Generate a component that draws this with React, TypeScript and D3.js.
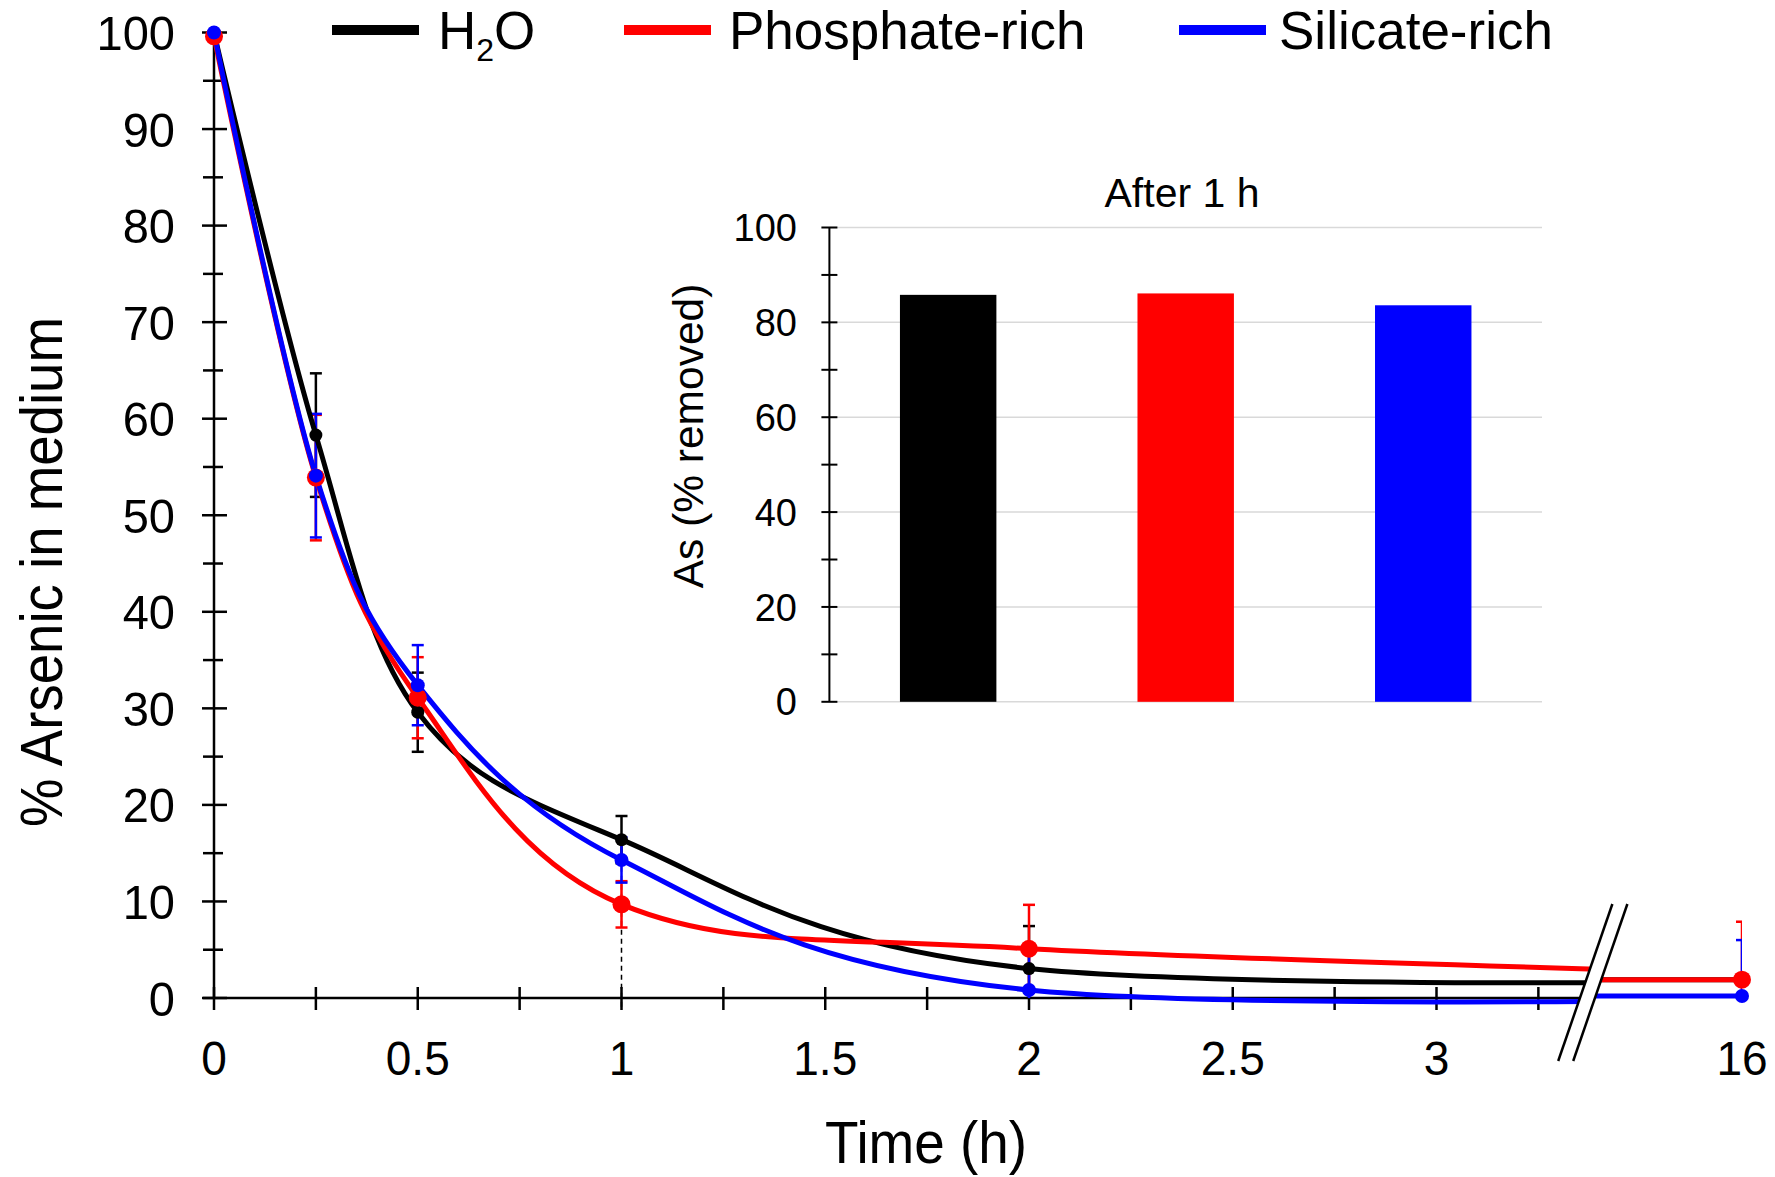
import React from "react";
import * as d3 from "d3";

// ---------- data ----------
const times = [0, 0.25, 0.5, 1, 2, 16];
const h2oValues = [100, 58.3, 29.6, 16.4, 3.05, 1.9];
const h2oErrors = [0, 6.4, 4.1, 2.45, 4.4, 0.3];
const phosphateValues = [99.6, 53.9, 31.1, 9.7, 5.1, 1.9];
const phosphateErrors = [0, 6.5, 4.2, 2.4, 4.55, 6.0];
const silicateValues = [100, 54.1, 32.4, 14.3, 0.83, 0.2];
const silicateErrors = [0, 6.4, 4.15, 2.35, 4.3, 5.8];
const seriesNames = ["H2O", "Phosphate-rich", "Silicate-rich"];
const seriesColors = ["#000000", "#ff0000", "#0000ff"];

const xMajorTicks = [0, 0.5, 1, 1.5, 2, 2.5, 3, 16];
const xMajorLabels = ["0", "0.5", "1", "1.5", "2", "2.5", "3", "16"];
const xMinorTicks = [0, 0.25, 0.5, 0.75, 1, 1.25, 1.5, 1.75, 2, 2.25, 2.5, 2.75, 3, 3.25];
const yMajorTicks = [0, 10, 20, 30, 40, 50, 60, 70, 80, 90, 100];
const yMinorTicks = [5, 15, 25, 35, 45, 55, 65, 75, 85, 95];

const insetCategories = ["H2O", "Phosphate-rich", "Silicate-rich"];
const insetValues = [85.8, 86.1, 83.6];
const insetLabelTicks = [0, 20, 40, 60, 80, 100];
const insetTicks = [0, 10, 20, 30, 40, 50, 60, 70, 80, 90, 100];

// ---------- layout ----------
const W = 1775;
const H = 1177;
const FONT = "'Liberation Sans', Arial, Helvetica, sans-serif";
const plotLeft = 214;
const axisY = 998;
const plotTop = 32.5;
const unitPx = 407.5;
const breakT = 3.352;
const x16Px = 1742;
const virtualT16 = 4.33;
const breakGap = 15;
const breakSlope = 0.345;
const breakUp = 94;
const breakDown = 63;

const xLin = d3.scaleLinear().domain([0, 1]).range([plotLeft, plotLeft + unitPx]);
const xAxisScale = d3
  .scaleLinear()
  .domain([0, breakT, 16])
  .range([xLin(0), xLin(breakT), x16Px]);
const y = d3.scaleLinear().domain([0, 100]).range([axisY, plotTop]);

const series = seriesNames.map((name, i) => ({
  name,
  color: seriesColors[i],
  values: [h2oValues, phosphateValues, silicateValues][i],
  errors: [h2oErrors, phosphateErrors, silicateErrors][i],
  r: [6.5, 9, 7][i],
}));

const curveX = (t: number) => (t > breakT ? xLin(virtualT16) : xLin(t));
const lineGen = d3
  .line<[number, number]>()
  .x((d) => curveX(d[0]))
  .y((d) => y(d[1]))
  .curve(d3.curveCatmullRom.alpha(0));

const xb = xLin(breakT);
const x1At = (yy: number) => xb - breakSlope * (yy - axisY);

// inset
const insetLeft = 829.4;
const insetRight = 1542;
const yIn = d3.scaleLinear().domain([0, 100]).range([701.8, 227.5]);
const xIn = d3
  .scaleBand<string>()
  .domain(insetCategories)
  .range([insetLeft, insetRight])
  .paddingInner(0.594)
  .paddingOuter(0.297);

const legendLineX = [332, 624, 1179];
const legendTextX = [438, 729, 1279];

export default function App() {
  const tickFont = 49;
  const breakTop = axisY - breakUp;
  const breakBot = axisY + breakDown;
  return (
    <svg
      width={W}
      height={H}
      viewBox={`0 0 ${W} ${H}`}
      style={{ position: "absolute", left: 0, top: 0, background: "#fff" }}
      fontFamily={FONT}
    >
      <defs>
        <clipPath id="leftOfBreak">
          <polygon points={`0,0 ${x1At(0)},0 ${x1At(H)},${H} 0,${H}`} />
        </clipPath>
        <clipPath id="rightOfBreak">
          <polygon
            points={`${x1At(0) + breakGap},0 ${W},0 ${W},${H} ${x1At(H) + breakGap},${H}`}
          />
        </clipPath>
        <clipPath id="errClip">
          <rect x={0} y={0} width={x16Px} height={axisY} />
        </clipPath>
      </defs>
      <rect width={W} height={H} fill="#fff" />

      {/* dashed line at 1 h */}
      <line
        x1={xLin(1)}
        x2={xLin(1)}
        y1={y(h2oValues[3])}
        y2={axisY + 12}
        stroke="#000"
        strokeWidth={1.5}
        strokeDasharray="5,4"
      />

      {/* y axis */}
      <line x1={plotLeft} x2={plotLeft} y1={y(100)} y2={axisY} stroke="#000" strokeWidth={2.5} />
      {yMajorTicks.map((v) => (
        <g key={"ym" + v}>
          <line x1={plotLeft - 12} x2={plotLeft + 13} y1={y(v)} y2={y(v)} stroke="#000" strokeWidth={2.5} />
          <text
            transform={`translate(175, ${y(v) + 0.358 * tickFont}) scale(0.96,1)`}
            textAnchor="end"
            fontSize={tickFont}
            fill="#000"
          >
            {v}
          </text>
        </g>
      ))}
      {yMinorTicks.map((v) => (
        <line key={"yn" + v} x1={plotLeft - 11} x2={plotLeft + 9} y1={y(v)} y2={y(v)} stroke="#000" strokeWidth={2.5} />
      ))}

      {/* x axis */}
      <line x1={plotLeft - 11} x2={xb} y1={axisY} y2={axisY} stroke="#000" strokeWidth={2.5} />
      {xMinorTicks.map((t) => (
        <line key={"xt" + t} x1={xLin(t)} x2={xLin(t)} y1={axisY - 11} y2={axisY + 12} stroke="#000" strokeWidth={2.5} />
      ))}
      {xMajorTicks.map((t, i) => (
        <text
          key={"xl" + t}
          transform={`translate(${xAxisScale(t)}, 1075) scale(0.94,1)`}
          textAnchor="middle"
          fontSize={tickFont}
          fill="#000"
        >
          {xMajorLabels[i]}
        </text>
      ))}

      {/* error bars */}
      <g clipPath="url(#errClip)">
        {series.map((s) =>
          times.map((t, j) => {
            const e = s.errors[j];
            if (!e) return null;
            const cx = xAxisScale(t);
            const yt = y(s.values[j] + e);
            const yb = y(s.values[j] - e);
            return (
              <g key={s.name + "e" + j} stroke={s.color} strokeWidth={2.5}>
                <line x1={cx} x2={cx} y1={yt} y2={yb} />
                <line x1={cx - 6} x2={cx + 6} y1={yt} y2={yt} />
                <line x1={cx - 6} x2={cx + 6} y1={yb} y2={yb} />
              </g>
            );
          })
        )}
      </g>

      {/* curves before break */}
      <g clipPath="url(#leftOfBreak)">
        {series.map((s) => (
          <path
            key={s.name + "line"}
            d={lineGen(times.map((t, j) => [t, s.values[j]] as [number, number])) || ""}
            fill="none"
            stroke={s.color}
            strokeWidth={5}
          />
        ))}
      </g>
      {/* segments after break */}
      <g clipPath="url(#rightOfBreak)">
        {series.map((s) => (
          <line
            key={s.name + "post"}
            x1={xb - 40}
            x2={xAxisScale(16)}
            y1={y(s.values[s.values.length - 1])}
            y2={y(s.values[s.values.length - 1])}
            stroke={s.color}
            strokeWidth={5}
          />
        ))}
      </g>

      {/* markers */}
      {series.map((s) =>
        times.map((t, j) => (
          <circle key={s.name + "m" + j} cx={xAxisScale(t)} cy={y(s.values[j])} r={s.r} fill={s.color} />
        ))
      )}

      {/* axis break */}
      <polygon
        points={`${x1At(breakTop)},${breakTop} ${x1At(breakTop) + breakGap},${breakTop} ${x1At(breakBot) + breakGap},${breakBot} ${x1At(breakBot)},${breakBot}`}
        fill="#fff"
      />
      <line x1={x1At(breakTop)} y1={breakTop} x2={x1At(breakBot)} y2={breakBot} stroke="#000" strokeWidth={2.5} />
      <line
        x1={x1At(breakTop) + breakGap}
        y1={breakTop}
        x2={x1At(breakBot) + breakGap}
        y2={breakBot}
        stroke="#000"
        strokeWidth={2.5}
      />

      {/* axis titles */}
      <text
        transform={`translate(926, 1163) scale(0.93,1)`}
        textAnchor="middle"
        fontSize={59}
        fill="#000"
      >
        Time (h)
      </text>
      <text
        transform={`translate(62, 572) rotate(-90) scale(0.91,1)`}
        textAnchor="middle"
        fontSize={60}
        fill="#000"
      >
        % Arsenic in medium
      </text>

      {/* legend */}
      {series.map((s, i) => (
        <g key={s.name + "leg"}>
          <line
            x1={legendLineX[i]}
            x2={legendLineX[i] + 87}
            y1={30}
            y2={30}
            stroke={s.color}
            strokeWidth={10}
          />
          <text x={legendTextX[i]} y={49} fontSize={53} fill="#000">
            {s.name === "H2O" ? (
              <>
                H<tspan fontSize={32} dy={12}>2</tspan>
                <tspan dy={-12}>O</tspan>
              </>
            ) : (
              s.name
            )}
          </text>
        </g>
      ))}

      {/* inset bar chart */}
      {insetLabelTicks.map((v) => (
        <line key={"ig" + v} x1={insetLeft} x2={insetRight} y1={yIn(v)} y2={yIn(v)} stroke="#d9d9d9" strokeWidth={1.5} />
      ))}
      {insetCategories.map((c, i) => (
        <rect
          key={"bar" + c}
          x={xIn(c)}
          y={yIn(insetValues[i])}
          width={xIn.bandwidth()}
          height={yIn(0) - yIn(insetValues[i])}
          fill={seriesColors[i]}
        />
      ))}
      <line x1={insetLeft} x2={insetLeft} y1={yIn(100)} y2={yIn(0)} stroke="#000" strokeWidth={2} />
      {insetTicks.map((v) => (
        <line key={"it" + v} x1={insetLeft - 8} x2={insetLeft + 8} y1={yIn(v)} y2={yIn(v)} stroke="#000" strokeWidth={2} />
      ))}
      {insetLabelTicks.map((v) => (
        <text key={"il" + v} x={797} y={yIn(v) + 0.358 * 38} textAnchor="end" fontSize={38} fill="#000">
          {v}
        </text>
      ))}
      <text x={1182} y={207} textAnchor="middle" fontSize={41} fill="#000">
        After 1 h
      </text>
      <text transform={`translate(703, 436) rotate(-90)`} textAnchor="middle" fontSize={42.5} fill="#000">
        As (% removed)
      </text>
    </svg>
  );
}
